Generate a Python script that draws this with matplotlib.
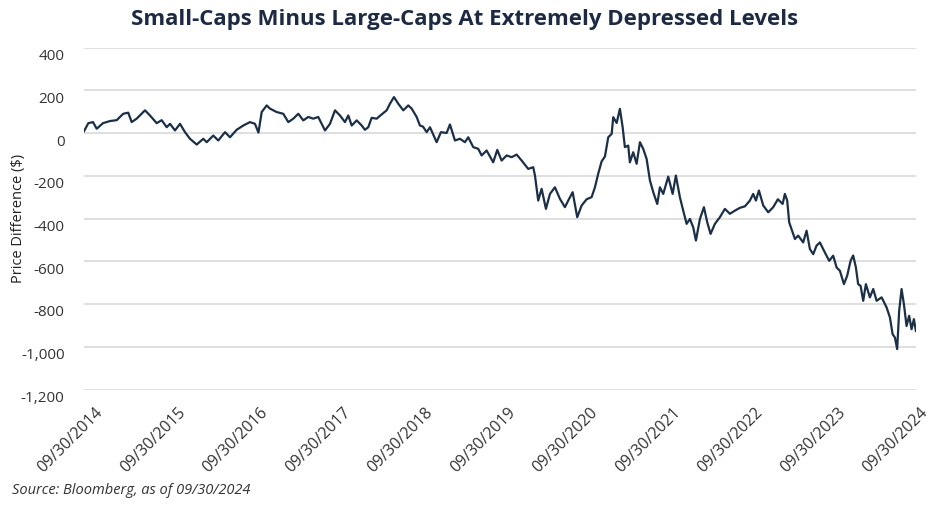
import numpy as np
import pandas as pd
import matplotlib
matplotlib.use('Agg')
import matplotlib.pyplot as plt
import matplotlib.dates as mdates
from matplotlib.ticker import FuncFormatter
from matplotlib.transforms import ScaledTranslation

# %% Data (decimal year, price difference in $)
years = [2014.748, 2014.800, 2014.856, 2014.901, 2014.976, 2015.061, 2015.141, 2015.220,
         2015.280, 2015.321, 2015.381, 2015.481, 2015.541, 2015.622, 2015.682, 2015.742,
         2015.782, 2015.842, 2015.902, 2015.962, 2016.022, 2016.103, 2016.182, 2016.223,
         2016.302, 2016.362, 2016.443, 2016.503, 2016.583, 2016.663, 2016.743, 2016.803,
         2016.845, 2016.884, 2016.944, 2016.984, 2017.064, 2017.143, 2017.204, 2017.264,
         2017.324, 2017.384, 2017.444, 2017.504, 2017.564, 2017.645, 2017.705, 2017.765,
         2017.825, 2017.885, 2017.925, 2017.966, 2018.026, 2018.086, 2018.125, 2018.165,
         2018.206, 2018.266, 2018.326, 2018.386, 2018.426, 2018.474, 2018.526, 2018.586,
         2018.646, 2018.687, 2018.747, 2018.786, 2018.823, 2018.867, 2018.907, 2018.987,
         2019.039, 2019.107, 2019.147, 2019.207, 2019.267, 2019.327, 2019.367, 2019.427,
         2019.487, 2019.528, 2019.588, 2019.667, 2019.716, 2019.768, 2019.828, 2019.889,
         2019.949, 2020.009, 2020.088, 2020.148, 2020.169, 2020.208, 2020.249, 2020.301,
         2020.349, 2020.409, 2020.469, 2020.529, 2020.569, 2020.622, 2020.677, 2020.730,
         2020.790, 2020.850, 2020.890, 2020.929, 2020.970, 2021.010, 2021.050, 2021.091,
         2021.110, 2021.151, 2021.190, 2021.223, 2021.250, 2021.290, 2021.310, 2021.350,
         2021.391, 2021.431, 2021.470, 2021.511, 2021.551, 2021.591, 2021.639, 2021.671,
         2021.711, 2021.771, 2021.824, 2021.863, 2021.911, 2021.951, 2021.992, 2022.032,
         2022.071, 2022.104, 2022.152, 2022.200, 2022.240, 2022.280, 2022.332, 2022.392,
         2022.452, 2022.512, 2022.573, 2022.633, 2022.693, 2022.753, 2022.792, 2022.825,
         2022.861, 2022.913, 2022.973, 2023.033, 2023.089, 2023.146, 2023.173, 2023.201,
         2023.225, 2023.266, 2023.294, 2023.333, 2023.393, 2023.434, 2023.474, 2023.514,
         2023.554, 2023.594, 2023.654, 2023.706, 2023.754, 2023.795, 2023.835, 2023.883,
         2023.922, 2023.963, 2023.994, 2024.027, 2024.054, 2024.083, 2024.115, 2024.147,
         2024.195, 2024.235, 2024.276, 2024.336, 2024.396, 2024.436, 2024.468, 2024.496,
         2024.523, 2024.547, 2024.576, 2024.604, 2024.636, 2024.667, 2024.696, 2024.724,
         2024.748]

diff = [8, 46, 51, 20, 46, 56, 60, 90,
        95, 51, 67, 106, 82, 46, 60, 27,
        43, 12, 43, 4, -27, -54, -27, -43,
        -12, -35, 4, -20, 15, 35, 51, 43,
        2, 98, 129, 114, 98, 90, 51, 67,
        90, 59, 75, 67, 75, 12, 43, 106,
        82, 51, 82, 35, 59, 35, 15, 27,
        71, 67, 87, 106, 137, 168, 137, 106,
        129, 114, 75, 35, 30, 4, 27, -43,
        4, 0, 40, -35, -27, -43, -20, -66,
        -74, -105, -82, -137, -79, -129, -105, -113,
        -101, -129, -168, -160, -199, -316, -261, -355,
        -285, -254, -308, -347, -316, -277, -394, -339,
        -310, -300, -254, -191, -133, -110, -20, -4,
        74, 47, 113, 27, -66, -59, -137, -90,
        -144, -43, -74, -121, -222, -277, -332, -254,
        -285, -204, -285, -199, -300, -363, -425, -402,
        -441, -503, -402, -347, -418, -472, -425, -394,
        -355, -378, -363, -350, -343, -316, -285, -316,
        -269, -339, -371, -347, -310, -332, -285, -316,
        -418, -465, -496, -480, -512, -457, -543, -567,
        -527, -512, -559, -598, -574, -629, -645, -707,
        -668, -598, -573, -629, -707, -715, -785, -707,
        -769, -730, -785, -769, -816, -863, -941, -957,
        -1011, -832, -730, -801, -903, -855, -918, -871,
        -926]

tick_years = list(range(2014, 2025))
y_ticks = [400, 200, 0, -200, -400, -600, -800, -1000, -1200]

TitleText = 'Small-Caps Minus Large-Caps At Extremely Depressed Levels'
YLabelText = 'Price Difference ($)'
SourceText = 'Source: Bloomberg, as of 09/30/2024'

# %% Dates
start = pd.Timestamp('2014-09-30')
yrs = np.array(years)
dates = start + pd.to_timedelta((yrs - yrs[0]) * 365.25, unit='D')
tick_dates = [pd.Timestamp('%d-09-30' % y) for y in tick_years]

# %% Figure
plt.rcParams['font.family'] = ['Open Sans', 'DejaVu Sans']
LineColor = '#1b2f47'
TextColor = '#333333'
GridColor = '#d9d9d9'
DPI = 100

fig = plt.figure(figsize=(9.3, 5.08), dpi=DPI)
ax = fig.add_axes([84/930, 1-389.5/508, 832/930, (389.5-47.5)/508])

ax.plot(dates, diff, color=LineColor, lw=1.6, solid_joinstyle='round')

ax.set_xlim(tick_dates[0], tick_dates[-1])
ax.set_ylim(-1200, 400)
ax.set_yticks(y_ticks)
ax.yaxis.set_major_formatter(FuncFormatter(lambda v, p: '{:,.0f}'.format(v)))
ax.grid(axis='y', color=GridColor, lw=1.2)
ax.set_axisbelow(True)
for s in ax.spines.values():
    s.set_visible(False)

ax.set_xticks(tick_dates)
ax.xaxis.set_major_formatter(mdates.DateFormatter('%m/%d/%Y'))
ax.tick_params(axis='both', length=0, labelcolor=TextColor)
ax.tick_params(axis='y', pad=14, labelsize=11)
ax.tick_params(axis='x', pad=11, labelsize=11.5)
for i, lab in enumerate(ax.get_xticklabels()):
    lab.set_rotation(45)
    lab.set_ha('right')
    lab.set_rotation_mode('anchor')
    dx = (11 - 0.7*i) / DPI
    lab.set_transform(lab.get_transform() + ScaledTranslation(dx, 0, fig.dpi_scale_trans))
for lab in ax.get_yticklabels():
    lab.set_transform(lab.get_transform() + ScaledTranslation(0, -7/DPI, fig.dpi_scale_trans))

ax.set_ylabel(YLabelText, fontsize=10.5, color='#222222')
ax.yaxis.set_label_coords(-58/832, 0.5)

fig.text(465/930, 1-20/508, TitleText, ha='center', va='center', fontsize=16,
         fontweight='bold', color='#1c2a44')
fig.text(12/930, 1-491/508, SourceText, ha='left', va='center', fontsize=10.5,
         style='italic', color=TextColor)

fig.savefig('out.png', dpi=DPI)
